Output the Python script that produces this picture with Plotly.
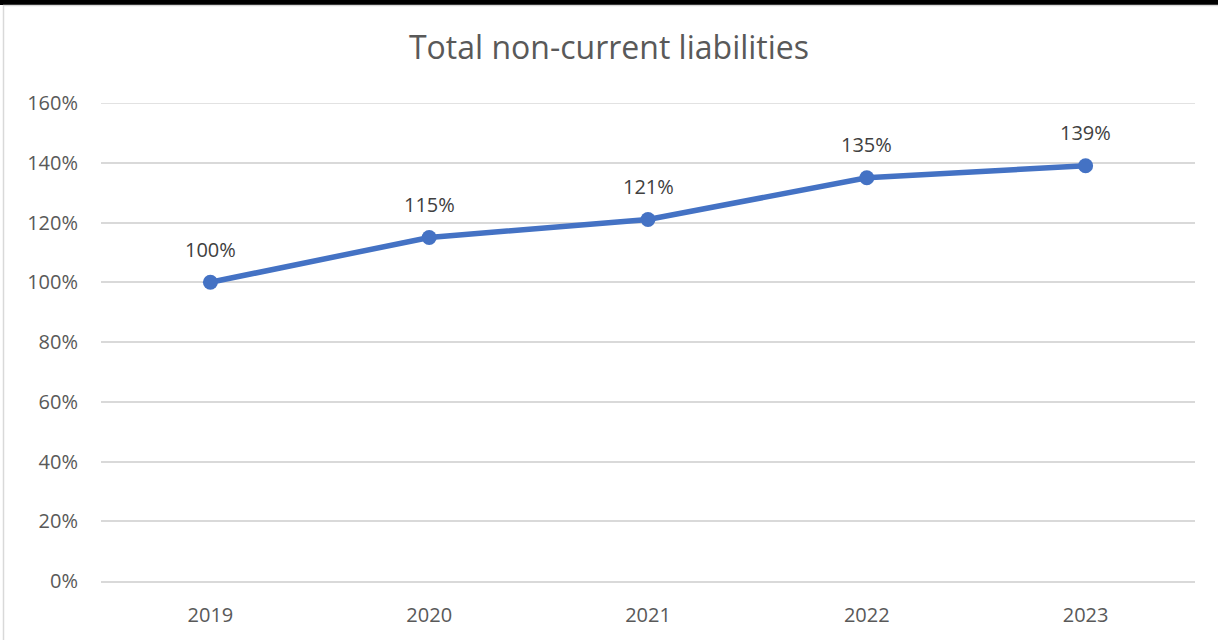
import plotly.graph_objects as go

# Chart data
years = ["2019", "2020", "2021", "2022", "2023"]
values = [1.00, 1.15, 1.21, 1.35, 1.39]
labels = ["100%", "115%", "121%", "135%", "139%"]
y_ticks = [0, 0.2, 0.4, 0.6, 0.8, 1.0, 1.2, 1.4, 1.6]
y_tick_text = ["0%", "20%", "40%", "60%", "80%", "100%", "120%", "140%", "160%"]

W, H = 1218, 640
L, R, T, B = 101, 23, 103, 59
pw, ph = W - L - R, H - T - B


def px_x(px):
    return (px - L) / pw


def px_y(py):
    return (H - B - py) / ph


line_color = "#4472C4"
grid_color = "#d9d9d9"
font_family = "'Open Sans', sans-serif"

fig = go.Figure()
fig.add_trace(go.Scatter(
    x=years, y=values, mode="lines+markers",
    line=dict(color=line_color, width=5.5),
    marker=dict(color=line_color, size=15),
    hoverinfo="skip", showlegend=False, cliponaxis=False,
))

# value labels above each point (category index positions)
annotations = [
    dict(x=i, y=v, xref="x", yref="y", text=t, showarrow=False, yshift=33,
         font=dict(family=font_family, size=20, color="#404040"))
    for i, (v, t) in enumerate(zip(values, labels))
]

shapes = [
    # top gridline at the edge of the range
    dict(type="line", xref="paper", yref="y", x0=0, x1=1,
         y0=y_ticks[-1], y1=y_ticks[-1],
         line=dict(color=grid_color, width=1.5), layer="below"),
    # top frame
    dict(type="rect", xref="paper", yref="paper",
         x0=px_x(0), x1=px_x(W), y0=px_y(5), y1=px_y(0),
         fillcolor="black", line=dict(width=0), layer="above"),
    dict(type="line", xref="paper", yref="paper",
         x0=px_x(3), x1=px_x(W), y0=px_y(5.5), y1=px_y(5.5),
         line=dict(color=grid_color, width=1.5)),
    # left frame
    dict(type="line", xref="paper", yref="paper",
         x0=px_x(3.5), x1=px_x(3.5), y0=px_y(5), y1=px_y(H),
         line=dict(color=grid_color, width=1.5)),
]

fig.update_layout(
    width=W, height=H,
    margin=dict(l=L, r=R, t=T, b=B, pad=0),
    paper_bgcolor="white", plot_bgcolor="white",
    title=dict(text="Total non-current liabilities", x=0.5, xanchor="center",
               y=1 - 48 / H, yanchor="middle",
               font=dict(family=font_family, size=32, color="#595959")),
    xaxis=dict(type="category", range=[-0.5, 4.5], showgrid=False,
               showline=True, linecolor=grid_color, linewidth=1.5,
               ticks="", tickfont=dict(family=font_family, size=20, color="#595959"),
               ticklabelstandoff=15, fixedrange=True),
    yaxis=dict(range=[0, 1.6], tickvals=y_ticks, ticktext=y_tick_text,
               showgrid=True, gridcolor=grid_color, gridwidth=1.5,
               zeroline=False, showline=False, ticks="",
               tickfont=dict(family=font_family, size=20, color="#595959"),
               ticklabelstandoff=22, fixedrange=True),
    annotations=annotations,
    shapes=shapes,
)

fig.write_html("out.html")
